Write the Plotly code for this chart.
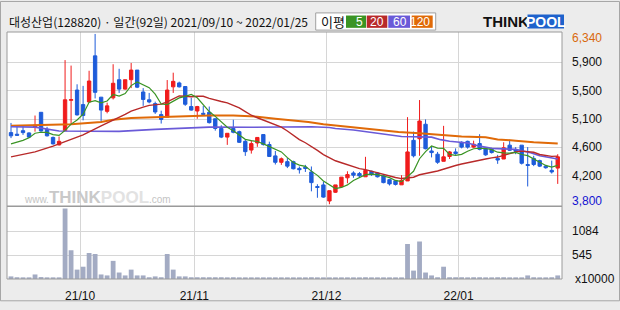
import plotly.graph_objects as go
import pandas as pd

# ---------------- data ----------------
opens = [4868, 4844, 4897, 4863, 4945, 5171, 4916, 4796, 4685, 4897,
         5350, 5503, 5286, 5325, 6013, 5397, 5185, 5387, 5657, 5517,
         5657, 5801, 5474, 5358, 5301, 5137, 5099, 5551, 5609, 5556,
         5257, 5190, 5156, 5171, 5075, 4930, 4801, 4930, 4882, 4738,
         4608, 4714, 4839, 4690, 4521, 4425, 4435, 4435, 4334, 4353,
         4281, 4064, 4088, 3848, 3978, 4060, 4194, 4266, 4257, 4209,
         4291, 4266, 4223, 4166, 4150, 4089, 4147, 4753, 4777, 4993,
         4594, 4546, 4440, 4512, 4580, 4724, 4738, 4652, 4705, 4628,
         4618, 4483, 4474, 4681, 4613, 4681, 4392, 4483, 4450, 4368,
         4305, 4339]
highs = [5012, 4978, 4964, 4873, 5123, 5171, 4954, 4810, 4810, 5950,
         5868, 5589, 5565, 5791, 6340, 5397, 5315, 5888, 5820, 5657,
         5907, 5801, 5532, 5460, 5330, 5195, 5652, 5762, 5628, 5556,
         5387, 5267, 5267, 5257, 5075, 4978, 4858, 5060, 4897, 4762,
         4752, 4796, 4839, 4733, 4594, 4497, 4488, 4449, 4363, 4387,
         4363, 4098, 4137, 4002, 4088, 4204, 4291, 4291, 4281, 4507,
         4300, 4281, 4242, 4175, 4161, 4233, 5099, 4883, 5354, 5065,
         4666, 4580, 4969, 4594, 4633, 4738, 4748, 4748, 4844, 4652,
         4642, 4536, 4724, 4748, 4652, 4681, 4652, 4522, 4464, 4387,
         4450, 4546]
lows = [4786, 4820, 4834, 4786, 4882, 4882, 4810, 4690, 4675, 4890,
        4993, 5123, 5051, 5315, 5378, 5027, 5156, 5363, 5460, 5508,
        5532, 5532, 5267, 5305, 5147, 5003, 5099, 5460, 5541, 5267,
        5195, 5075, 5123, 5003, 4897, 4786, 4685, 4858, 4714, 4521,
        4555, 4656, 4675, 4512, 4392, 4387, 4339, 4319, 4257, 4281,
        3992, 3896, 3896, 3800, 3968, 4050, 4112, 4194, 4194, 4209,
        4223, 4199, 4112, 4079, 4079, 4089, 4147, 4498, 4522, 4618,
        4498, 4402, 4440, 4474, 4536, 4633, 4628, 4642, 4604, 4522,
        4556, 4402, 4474, 4594, 4546, 4392, 4065, 4368, 4354, 4330,
        4257, 4103]
closes = [4820, 4829, 4868, 4801, 4978, 4892, 4820, 4700, 4738, 5358,
          5360, 5132, 5123, 5638, 5469, 5204, 5267, 5604, 5517, 5657,
          5801, 5546, 5363, 5325, 5176, 5065, 5503, 5633, 5551, 5291,
          5204, 5257, 5142, 5017, 4930, 4801, 4858, 4873, 4723, 4584,
          4704, 4796, 4690, 4512, 4425, 4478, 4368, 4329, 4315, 4334,
          4122, 4050, 3906, 4002, 4088, 4204, 4242, 4233, 4223, 4305,
          4242, 4209, 4122, 4103, 4095, 4156, 4580, 4522, 5041, 4628,
          4570, 4426, 4507, 4580, 4556, 4652, 4652, 4695, 4618, 4536,
          4570, 4459, 4642, 4604, 4589, 4411, 4378, 4392, 4368, 4344,
          4281, 4507]
volumes = [59, 40, 22, 22, 103, 44, 22, 22, 22, 1602,
           654, 213, 279, 588, 566, 103, 81, 412, 147, 81,
           213, 81, 81, 40, 59, 40, 566, 213, 59, 59,
           40, 40, 40, 40, 40, 40, 22, 40, 22, 22,
           22, 22, 22, 22, 22, 22, 22, 22, 22, 22,
           40, 22, 22, 22, 22, 22, 22, 22, 22, 40,
           22, 22, 22, 22, 22, 22, 794, 191, 853, 147,
           81, 40, 279, 40, 40, 40, 22, 40, 40, 22,
           22, 40, 40, 22, 22, 22, 81, 40, 22, 22,
           40, 81]

# moving-average values that need history before the window
ma5_head_idx = [0, 1, 2, 3]
ma5_head = [4700, 4725, 4752, 4790]
ma20_head_idx = [0, 4, 7, 9, 12, 15, 18]
ma20_head = [4507, 4580, 4666, 4735, 4835, 4969, 5092]
ma60_idx = [0, 4, 8, 12, 18, 24, 29, 33, 40, 45, 50, 53, 54, 57, 59, 61,
            62.5, 65, 70, 71.5, 73, 76, 78, 80, 84, 86.5, 88, 90, 91]
ma60_vals = [4955, 4950, 4893, 4887, 4887, 4916, 4930, 4950, 4947, 4955,
             4955, 4945, 4930, 4907, 4883, 4858, 4835, 4810, 4800, 4763,
             4738, 4714, 4666, 4633, 4618, 4569, 4522, 4497, 4474]
ma120_idx = [0, 10, 15, 17, 20, 25, 28, 33, 37, 41, 44, 47, 49.5, 52, 55,
             57, 60, 62, 64.5, 68, 72, 75, 79, 81, 84, 87, 91]
ma120_vals = [4969, 4994, 5027, 5060, 5085, 5099, 5118, 5124, 5124, 5106,
              5075, 5051, 5027, 4994, 4965, 4945, 4922, 4893, 4876, 4858,
              4835, 4810, 4800, 4767, 4748, 4724, 4705]

month_tick_pos = [11.5, 30.5, 52.5, 74.5]
month_labels = ['21/10', '21/11', '21/12', '22/01']
price_label_vals = [6340, 5917, 5493, 5070, 4647, 4223, 3800]
price_label_text = ['6,340', '5,900', '5,500', '5,100', '4,600', '4,200', '3,800']
vol_label_vals = [1084, 545]
vol_label_text = ['1084', '545']
ma_periods = ['5', '20', '60', '120']
ma_colors = ['#3A9424', '#B82A2A', '#6A5AD8', '#E06A08']

title_text = '대성산업(128820) · 일간(92일) 2021/09/10 ~ 2022/01/25'

# ---------------- derived series ----------------
n = len(closes)
idx = list(range(n))
cs = pd.Series(closes, dtype=float)
ma5_calc = cs.rolling(5).mean()
ma20_calc = cs.rolling(20).mean()
ma5_x = ma5_head_idx + idx[4:]
ma5_y = ma5_head + list(ma5_calc[4:])
ma20_x = ma20_head_idx + idx[19:]
ma20_y = ma20_head + list(ma20_calc[19:])

# ---------------- layout helpers ----------------
W, H = 620, 310
L, R, T, B = 7, 562, 32, 287
def px(x):
    return (x - L) / (R - L)
def py(y):
    return (B - y) / (B - T)

split = py(212)
RED = '#F01C1C'
BLUE = '#1E5CDA'

fig = go.Figure()

fig.add_trace(go.Bar(x=idx, y=volumes, xaxis='x2', yaxis='y2',
                     marker=dict(color='#A3ABC3', line=dict(width=0)),
                     showlegend=False, hoverinfo='skip'))

fig.add_trace(go.Candlestick(
    x=idx, open=opens, high=highs, low=lows, close=closes,
    increasing=dict(line=dict(color=RED, width=1), fillcolor=RED),
    decreasing=dict(line=dict(color=BLUE, width=1), fillcolor=BLUE),
    showlegend=False, hoverinfo='skip'))

for xs, ys, col, w in [(ma120_idx, ma120_vals, ma_colors[3], 2.0),
                       (ma60_idx, ma60_vals, ma_colors[2], 1.6),
                       (ma20_x, ma20_y, ma_colors[1], 1.4),
                       (ma5_x, ma5_y, ma_colors[0], 1.2)]:
    fig.add_trace(go.Scatter(x=xs, y=ys, mode='lines',
                             line=dict(color=col, width=w),
                             showlegend=False, hoverinfo='skip'))

xr = [(L - 11) / 6.008, (R - 11) / 6.008]
grid = '#D6D6D6'
frame = '#9A9A9A'

shapes = [
    dict(type='rect', xref='paper', yref='paper', x0=0, x1=1, y0=0, y1=1,
         line=dict(color=frame, width=1), layer='above'),
    dict(type='line', xref='paper', yref='paper', x0=0, x1=1, y0=split, y1=split,
         line=dict(color=frame, width=1.5), layer='above'),
    dict(type='rect', xref='paper', yref='paper', x0=px(0.5), x1=px(619.5),
         y0=py(309.5), y1=py(0.5), line=dict(color='#A6A6A6', width=1)),
    dict(type='rect', xref='paper', yref='paper', x0=px(315.7), x1=px(435.7),
         y0=py(30), y1=py(12.3), line=dict(color='#A0A0A0', width=1),
         fillcolor='white'),
    dict(type='rect', xref='paper', yref='paper', x0=px(527.5), x1=px(564),
         y0=py(28.3), y1=py(14), line=dict(width=0), fillcolor='#1E62CC'),
]
box_edges = [(346, 366), (366.7, 387.3), (388.3, 410), (411.7, 432.7)]
annotations = []
for (a, b), col, lab in zip(box_edges, ma_colors, ma_periods):
    shapes.append(dict(type='rect', xref='paper', yref='paper', x0=px(a), x1=px(b),
                       y0=py(27.7), y1=py(15), line=dict(width=0), fillcolor=col))
    annotations.append(dict(xref='paper', yref='paper', x=px(b - 1), y=py(21.5),
                            xanchor='right', yanchor='middle', showarrow=False,
                            text=lab, font=dict(size=12, color='white',
                                                family='Liberation Sans')))

annotations += [
    dict(xref='paper', yref='paper', x=px(7), y=py(21.5), xanchor='left',
         yanchor='middle', showarrow=False, text=title_text,
         font=dict(size=12, color='#111111', family='Noto Sans CJK KR')),
    dict(xref='paper', yref='paper', x=px(319), y=py(21.3), xanchor='left',
         yanchor='middle', showarrow=False, text='이평',
         font=dict(size=13, color='#111111', family='Noto Sans CJK KR')),
    dict(xref='paper', yref='paper', x=px(481), y=py(21.5), xanchor='left',
         yanchor='middle', showarrow=False, text='<b>THINK</b>',
         font=dict(size=15, color='#111111', family='Liberation Sans')),
    dict(xref='paper', yref='paper', x=px(545.8), y=py(21.5), xanchor='center',
         yanchor='middle', showarrow=False, text='<b>POOL</b>',
         font=dict(size=14, color='white', family='Liberation Sans')),
    dict(xref='paper', yref='paper', x=px(22), y=py(203), xanchor='left',
         yanchor='middle', showarrow=False,
         text=("<span style='font-size:10px'>www.</span>"
               "<b><span style='font-size:17px;color:#C9C9C9'>THINK</span>"
               "<span style='font-size:17px;color:#E2E2E2'>POOL</span></b>"
               "<span style='font-size:10px'>.com</span>"),
         font=dict(size=10, color='#C4C4C4', family='Liberation Sans')),
]

for i, (v, t) in enumerate(zip(price_label_vals, price_label_text)):
    col = '#111111'
    shift = 0
    if i == 0:
        col, shift = '#D9690C', -4
    elif i == len(price_label_vals) - 1:
        col, shift = '#1414D2', 3
    annotations.append(dict(xref='paper', yref='y', x=px(570), y=v, yshift=shift,
                            xanchor='left', yanchor='middle', showarrow=False,
                            text=t, font=dict(size=12, color=col,
                                              family='Liberation Sans')))
for v, t in zip(vol_label_vals, vol_label_text):
    annotations.append(dict(xref='paper', yref='y2', x=px(570), y=v,
                            xanchor='left', yanchor='middle', showarrow=False,
                            text=t, font=dict(size=12, color='#111111',
                                              family='Liberation Sans')))
annotations.append(dict(xref='paper', yref='y2', x=px(573), y=0,
                        xanchor='left', yanchor='middle', showarrow=False,
                        text='x10000', font=dict(size=12, color='#111111',
                                                 family='Liberation Sans')))

fig.update_layout(
    width=W, height=H,
    margin=dict(l=L, r=W - R, t=T, b=H - B, pad=0),
    paper_bgcolor='#ECECEC', plot_bgcolor='white',
    bargap=0.2, boxgap=0.2,
    hovermode=False,
    xaxis=dict(domain=[0, 1], anchor='y', range=xr, tickvals=month_tick_pos,
               showticklabels=False, showgrid=True, gridcolor=grid, gridwidth=1,
               zeroline=False, showline=False, ticks='',
               rangeslider=dict(visible=False)),
    yaxis=dict(domain=[split, 1], anchor='x', range=[3768, 6369],
               tickvals=price_label_vals[1:-1], showticklabels=False,
               showgrid=True, gridcolor=grid, gridwidth=1, zeroline=False,
               ticks=''),
    xaxis2=dict(domain=[0, 1], anchor='y2', range=xr, tickvals=month_tick_pos,
                ticktext=month_labels, showgrid=True, gridcolor=grid,
                gridwidth=1, zeroline=False, showline=False, ticks='',
                ticklabelstandoff=8,
                tickfont=dict(size=12, color='#111111', family='Liberation Sans')),
    yaxis2=dict(domain=[0, split], anchor='x2', range=[0, 1650],
                tickvals=vol_label_vals, showticklabels=False, showgrid=True,
                gridcolor=grid, gridwidth=1, zeroline=False, ticks=''),
    shapes=shapes,
    annotations=annotations,
)

fig.write_html('out.html')
